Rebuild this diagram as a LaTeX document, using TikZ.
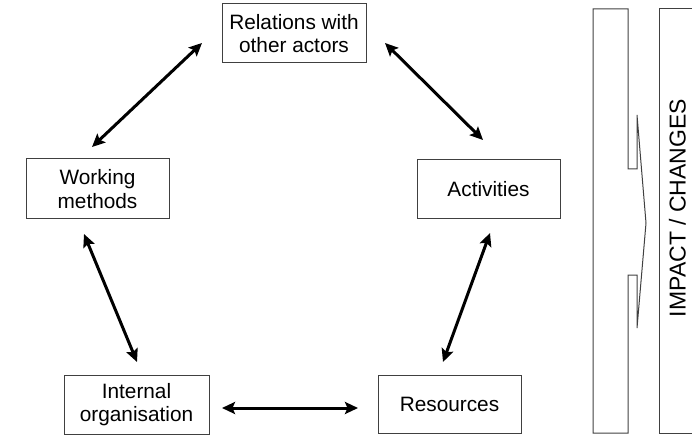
\documentclass[tikz,border=0pt]{standalone}
\usepackage{fontspec}
\setmainfont{Liberation Sans}
\usetikzlibrary{arrows.meta}
\tikzset{
  box/.style={draw=black!75, line width=1pt, align=center, inner sep=0pt,
    font=\fontsize{20.8}{23.5}\selectfont, text=black},
  link/.style={line width=3pt, {Stealth[length=13pt,width=12pt,inset=2.5pt]}-{Stealth[length=13pt,width=12pt,inset=2.5pt]}},
  panel/.style={draw=black!75, line width=1pt},
}
\begin{document}
\begin{tikzpicture}[x=1pt,y=-1pt]
\useasboundingbox (0,0) rectangle (692,435);
\node[box, minimum width=144pt, minimum height=59pt] (rel) at (294,33.5) {Relations with\\other actors};
\node[box, minimum width=143pt, minimum height=60pt] (wm) at (97.5,189) {Working\\methods};
\node[box, minimum width=143pt, minimum height=59pt] (act) at (488.5,189.5) {Activities};
\node[box, minimum width=145pt, minimum height=59pt] (io) at (136.5,404.5) {Internal\\organisation};
\node[box, minimum width=143pt, minimum height=58pt] (res) at (449.5,404) {Resources};

\coordinate (a1) at (202,43);  \coordinate (a2) at (92,147);
\coordinate (b1) at (385,43);  \coordinate (b2) at (483,140);
\coordinate (c1) at (84,234);  \coordinate (c2) at (137,362);
\coordinate (d1) at (490,233); \coordinate (d2) at (443,362);
\coordinate (e1) at (222,408); \coordinate (e2) at (358,408);
\draw[link] (a1) -- (a2);
\draw[link] (b1) -- (b2);
\draw[link] (c1) -- (c2);
\draw[link] (d1) -- (d2);
\draw[link] (e1) -- (e2);

\draw[panel] (593,9) -- (628,9) -- (628,169) -- (637,169) -- (637,115) -- (646,223)
  -- (637,328) -- (637,275) -- (628,275) -- (628,433) -- (593,433) -- cycle;
\draw[panel] (692,9) -- (659,9) -- (659,433) -- (692,433);
\node[rotate=90, font=\fontsize{23}{26}\selectfont, inner sep=0pt] (imp) at (677.5,208) {IMPACT / CHANGES};
\end{tikzpicture}
\end{document}
